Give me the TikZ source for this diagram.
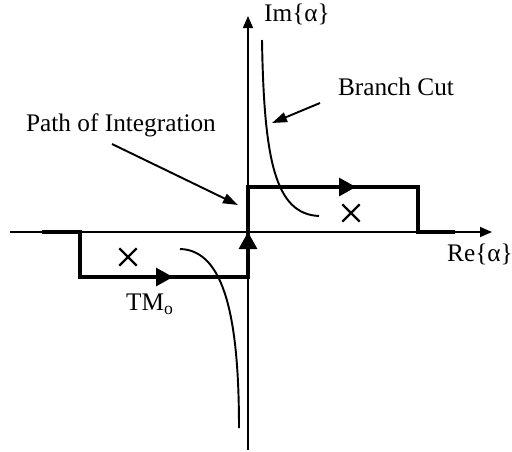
\documentclass[tikz,border=0pt]{standalone}
\usepackage{fontspec}
\setmainfont{Liberation Serif}
\usetikzlibrary{arrows.meta, positioning, shapes.misc}

\begin{document}
\begin{tikzpicture}[
      x=0.02cm, y=-0.02cm,
      lbl/.style={inner sep=0pt, font=\fontsize{14.4}{17}\selectfont},
      pole/.style={draw, cross out, line width=1.3pt, minimum size=0.3cm, inner sep=0pt},
      axis/.style={line width=0.9pt, -{Triangle[length=0.24cm, width=0.2cm]}},
      contour/.style={line width=1.8pt},
      flow/.style={line width=1.8pt, -{Triangle[length=0.34cm, width=0.36cm]}},
      cut/.style={line width=1.1pt},
      ptr/.style={line width=1.1pt, -{Triangle[length=0.3cm, width=0.2cm]}}
    ]
    \useasboundingbox (0,0) rectangle (512,451);

    % axes
    \draw[axis] (10,232) -- (492,232);
    \draw[axis] (248,450) -- (248,16);
    \node[lbl] (im) at (297,14) {Im\{α\}};
    \node[lbl] (re) at (480,254) {Re\{α\}};

    % path of integration
    \draw[contour] (42,232) -- (80,232) -- (80,277) -- (248,277) -- (248,187)
                   -- (418,187) -- (418,232) -- (455,232);
    \draw[flow] (150,277) -- (173,277);
    \draw[flow] (248,256) -- (248,232);
    \draw[flow] (333,187) -- (356,187);

    % branch cuts
    \draw[cut] (262,40) .. controls (264,160) and (275,214) .. (319,216);
    \draw[cut] (180,249) .. controls (225,250) and (239,320) .. (239,428);

    % poles
    \node[pole] (p1) at (128,257) {};
    \node[pole] (p2) at (351,213) {};

    \node[lbl] (tm) at (150,304) {TM\textsubscript{o}};

    % labels with pointers
    \node[lbl] (path) at (121,125) {Path of Integration};
    \node[lbl] (bc) at (396,87) {Branch Cut};
    \coordinate (pathtip) at (238,205);
    \coordinate (bctip) at (272,123);
    \draw[ptr] (112,144) -- (pathtip);
    \draw[ptr] (320,103) -- (bctip);
  \end{tikzpicture}
\end{document}
